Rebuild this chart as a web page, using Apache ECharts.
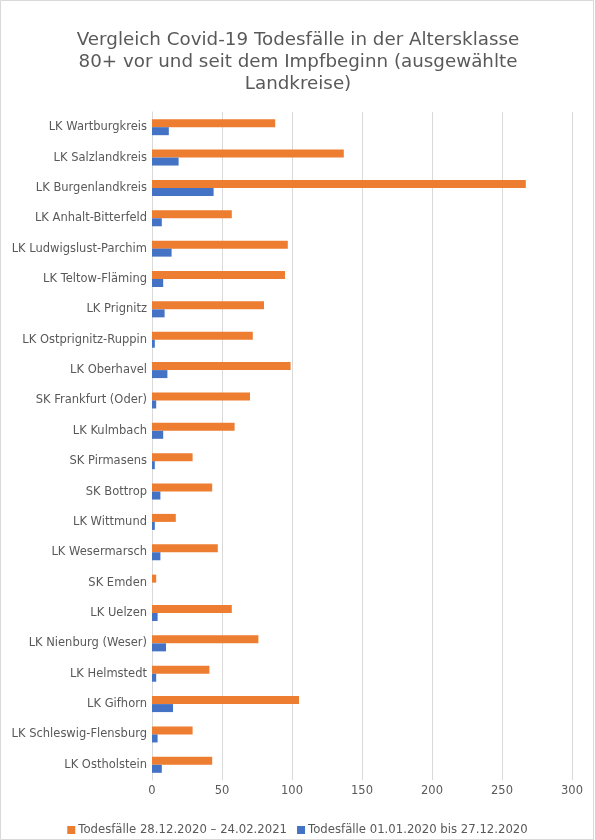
<!DOCTYPE html>
<html>
<head>
<meta charset="utf-8">
<script src="https://cdn.jsdelivr.net/npm/echarts@6/dist/echarts.min.js"></script>
<style>
  html, body { margin: 0; padding: 0; background: #fff; }
  #chart { width: 595px; height: 840px; }
</style>
</head>
<body>
<div id="chart"></div>
<script>
// Landkreise, von oben nach unten
var kreise = [
    'LK Wartburgkreis', 'LK Salzlandkreis', 'LK Burgenlandkreis', 'LK Anhalt-Bitterfeld',
    'LK Ludwigslust-Parchim', 'LK Teltow-Fläming', 'LK Prignitz', 'LK Ostprignitz-Ruppin',
    'LK Oberhavel', 'SK Frankfurt (Oder)', 'LK Kulmbach', 'SK Pirmasens', 'SK Bottrop',
    'LK Wittmund', 'LK Wesermarsch', 'SK Emden', 'LK Uelzen', 'LK Nienburg (Weser)',
    'LK Helmstedt', 'LK Gifhorn', 'LK Schleswig-Flensburg', 'LK Ostholstein'
];
var seitImpfung = [88, 137, 267, 57, 97, 95, 80, 72, 99, 70, 59, 29, 43, 17, 47, 3, 57, 76, 41, 105, 29, 43];
var vorImpfung = [12, 19, 44, 7, 14, 8, 9, 2, 11, 3, 8, 2, 6, 2, 6, 0, 4, 10, 3, 15, 4, 7];
var xTicks = [0, 50, 100, 150, 200, 250, 300];

var nameSeit = 'Todesfälle 28.12.2020 – 24.02.2021';
var nameVor = 'Todesfälle 01.01.2020 bis 27.12.2020';

var font = 'DejaVu Sans';
var grau = '#595959';

var myChart = echarts.init(document.getElementById('chart'));
var option = {
    backgroundColor: '#fff',
    animation: false,
    textStyle: {fontFamily: font},
    title: {
        text: 'Vergleich Covid-19 Todesfälle in der Altersklasse\n80+ vor und seit dem Impfbeginn (ausgewählte\nLandkreise)',
        left: 298,
        top: 29,
        padding: 0,
        textAlign: 'center',
        textStyle: {
            fontFamily: font,
            fontSize: 18.3,
            fontWeight: 'normal',
            lineHeight: 22,
            color: grau
        }
    },
    legend: {
        top: 819,
        left: 'center',
        itemWidth: 8,
        itemHeight: 8,
        itemGap: 10,
        icon: 'rect',
        textStyle: {fontFamily: font, fontSize: 11.7, color: grau, padding: [0, 0, 0, -2]},
        data: [nameSeit, nameVor]
    },
    grid: {
        left: 152,
        right: 23,
        top: 112,
        bottom: 60,
        containLabel: false
    },
    xAxis: {
        type: 'value',
        min: xTicks[0],
        max: xTicks[xTicks.length - 1],
        interval: 50,
        axisLine: {show: false},
        axisTick: {show: false},
        axisLabel: {color: grau, fontSize: 11.5, fontFamily: font, margin: 5},
        splitLine: {lineStyle: {color: '#d9d9d9', width: 1}}
    },
    yAxis: {
        type: 'category',
        inverse: true,
        data: kreise,
        axisLine: {lineStyle: {color: '#d9d9d9'}},
        axisTick: {show: false},
        axisLabel: {color: grau, fontSize: 11.5, fontFamily: font, margin: 5}
    },
    series: [
        {
            name: nameSeit,
            type: 'bar',
            data: seitImpfung,
            barWidth: 8,
            barGap: '0%',
            itemStyle: {color: '#ed7d31'}
        },
        {
            name: nameVor,
            type: 'bar',
            data: vorImpfung,
            barWidth: 8,
            barGap: '0%',
            itemStyle: {color: '#4472c4'}
        }
    ],
    graphic: [{
        type: 'rect',
        shape: {x: 0.5, y: 0.5, width: 593, height: 839},
        style: {fill: null, stroke: '#d9d9d9', lineWidth: 1},
        silent: true
    }]
};
myChart.setOption(option);
</script>
</body>
</html>
